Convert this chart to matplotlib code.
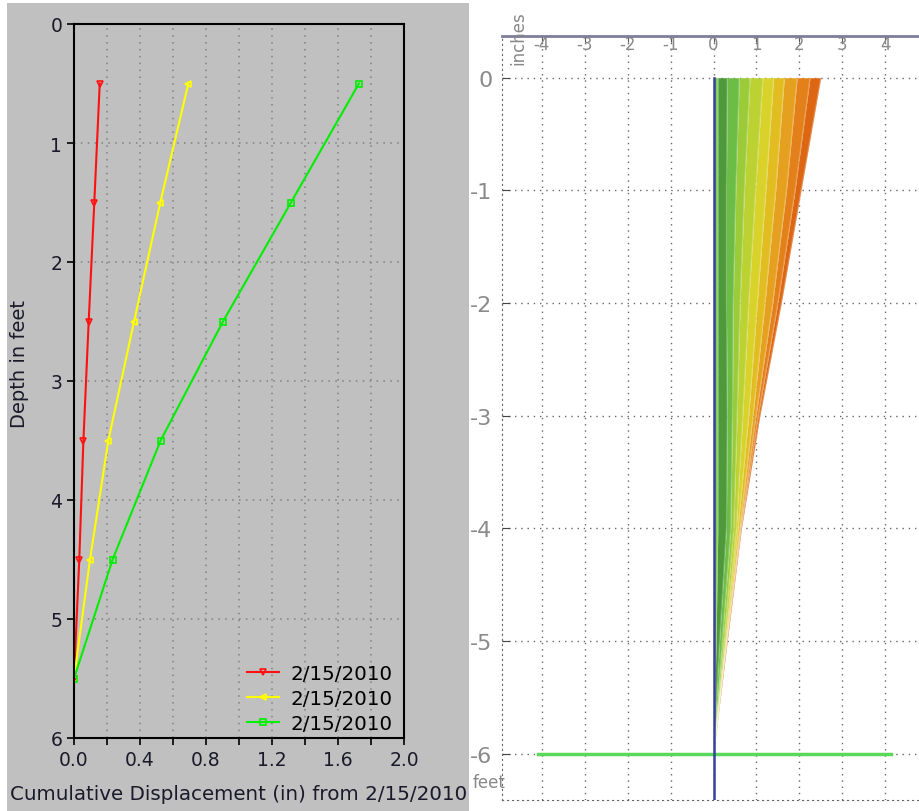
import matplotlib
matplotlib.use("Agg")
import matplotlib.pyplot as plt
from matplotlib.patches import Rectangle

W, H = 919, 812

# Left chart: cumulative displacement profiles
depth_ft = [0.5, 1.5, 2.5, 3.5, 4.5, 5.5]
red_disp = [0.156, 0.123, 0.089, 0.057, 0.032, 0.0]
yellow_disp = [0.693, 0.523, 0.364, 0.208, 0.097, 0.0]
green_disp = [1.727, 1.315, 0.903, 0.525, 0.234, 0.0]
legend_labels = ["2/15/2010", "2/15/2010", "2/15/2010"]

# Right chart: fan of readings (inches) at depths (feet)
fan_depth = [0, -1, -2, -3, -4, -5, -6]
fan_profiles = [
    [0.00, 0.00, 0.00, 0.00, 0.00, 0.00, 0.0],
    [0.10, 0.10, 0.10, 0.10, 0.10, 0.06, 0.0],
    [0.32, 0.30, 0.30, 0.32, 0.30, 0.14, 0.0],
    [0.60, 0.52, 0.46, 0.44, 0.40, 0.20, 0.0],
    [0.85, 0.72, 0.62, 0.55, 0.47, 0.24, 0.0],
    [1.15, 0.98, 0.82, 0.68, 0.53, 0.27, 0.0],
    [1.40, 1.22, 1.02, 0.82, 0.57, 0.29, 0.0],
    [1.65, 1.45, 1.20, 0.92, 0.61, 0.30, 0.0],
    [1.95, 1.70, 1.38, 0.99, 0.63, 0.31, 0.0],
    [2.25, 1.90, 1.50, 1.04, 0.64, 0.31, 0.0],
    [2.50, 2.04, 1.58, 1.08, 0.65, 0.32, 0.0],
]
band_colors = ["#7cca52", "#4e9a3a", "#6cbd45", "#9ccb3a", "#bcd232",
               "#d8d22a", "#e2bd22", "#e6a020", "#e4801a", "#dc6612"]
inch_ticks = [-4, -3, -2, -1, 0, 1, 2, 3, 4]
feet_ticks = [0, -1, -2, -3, -4, -5, -6]

fig = plt.figure(figsize=(W / 100, H / 100), dpi=100)
fig.patch.set_facecolor("white")

# gray panel behind the left chart
fig.patches.append(Rectangle((7 / W, 0), (469 - 7) / W, 1 - 4 / H,
                             transform=fig.transFigure, facecolor="#c0c0c0",
                             edgecolor="none", zorder=-10))

ax = fig.add_axes([74 / W, 1 - 739 / H, (404 - 74) / W, (739 - 25) / H])
ax.set_facecolor("#c0c0c0")
ax.plot(red_disp, depth_ft, color="#ff1010", lw=1.5, marker="v", ms=4.5,
        mfc="none", mew=1.2, label=legend_labels[0])
ax.plot(yellow_disp, depth_ft, color="#ffff00", lw=1.5, marker="<", ms=4.5,
        mfc="none", mew=1.2, label=legend_labels[1])
ax.plot(green_disp, depth_ft, color="#00ee00", lw=1.5, marker="s", ms=4,
        mfc="none", mew=1.2, label=legend_labels[2])
ax.set_xlim(0, 2.0)
ax.set_ylim(6, 0)
ax.set_xticks([0, 0.4, 0.8, 1.2, 1.6, 2.0])
ax.set_xticklabels(["0.0", "0.4", "0.8", "1.2", "1.6", "2.0"])
ax.set_xticks([0.2, 0.6, 1.0, 1.4, 1.8], minor=True)
ax.set_yticks([0, 1, 2, 3, 4, 5, 6])
ax.tick_params(which="both", direction="out", length=5, width=1.2,
               labelsize=13.5, labelcolor="#1a1a2a")
ax.grid(True, which="both", color="#808080", ls=(0, (1, 3.5)), lw=1.1)
for s in ax.spines.values():
    s.set_linewidth(1.5)
ax.set_ylabel("Depth in feet", fontsize=14, color="#1a1a2a")
ax.yaxis.set_label_coords(-0.135, 0.525)
ax.set_xlabel("Cumulative Displacement (in) from 2/15/2010", fontsize=14.3,
              labelpad=11, color="#1a1a2a")
ax.legend(loc="lower right", frameon=False, fontsize=14.3, handlelength=1.6,
          handletextpad=0.6, labelspacing=0.3,
          bbox_to_anchor=(1.02, -0.018))

# Right chart
ax2 = fig.add_axes([502 / W, 1 - 801 / H, (W - 502) / W, (801 - 37) / H])
ax2.set_facecolor("white")
for i in range(len(fan_profiles) - 1):
    ax2.fill_betweenx(fan_depth, fan_profiles[i], fan_profiles[i + 1],
                      color=band_colors[i], lw=0, zorder=2)
for prof in fan_profiles[1:]:
    ax2.plot(prof, fan_depth, color="white", alpha=0.25, lw=0.8, zorder=3)
ax2.plot([0, 0], [0, -6.41], color="#3a3f9a", lw=1.8, zorder=5)
ax2.plot([-4.1, 4.13], [-6, -6], color="#5ad85a", lw=2.5, zorder=4)

ax2.set_xlim(-4.93, 4.79)
ax2.set_ylim(-6.41, 0.37)
ax2.xaxis.tick_top()
ax2.set_xticks(inch_ticks)
ax2.set_xticklabels([str(v) for v in inch_ticks])
ax2.set_yticks(feet_ticks)
ax2.set_yticklabels([str(v) for v in feet_ticks])
narrow = ["Liberation Sans Narrow", "DejaVu Sans"]
ax2.tick_params(axis="x", direction="in", length=4, pad=-12, color="#555555",
                labelcolor="#8a8a8a", labelsize=12)
ax2.tick_params(axis="y", direction="in", length=6, pad=7, color="#444444",
                labelcolor="#8a8a8a", labelsize=16)
for lab in ax2.get_xticklabels() + ax2.get_yticklabels():
    lab.set_family(narrow)
ax2.grid(True, color="#666666", ls=(0, (1, 3.5)), lw=1.0, zorder=1)
ax2.set_axisbelow(True)
ax2.spines["right"].set_visible(False)
ax2.spines["top"].set_color("#7c7f9a")
ax2.spines["top"].set_linewidth(2)
ax2.spines["left"].set_color("#666666")
ax2.spines["left"].set_linestyle((0, (1, 3.5)))
ax2.spines["bottom"].set_color("#666666")
ax2.spines["bottom"].set_linestyle((0, (1, 3.5)))

fig.text(518 / W, 1 - 38 / H, "inches", rotation=90, color="#888888",
         fontsize=12, ha="center", va="center", family=narrow)
fig.text(489 / W, 1 - 783 / H, "feet", color="#888888", fontsize=12,
         ha="center", va="center", family=narrow)

fig.savefig("out.png", dpi=100)
